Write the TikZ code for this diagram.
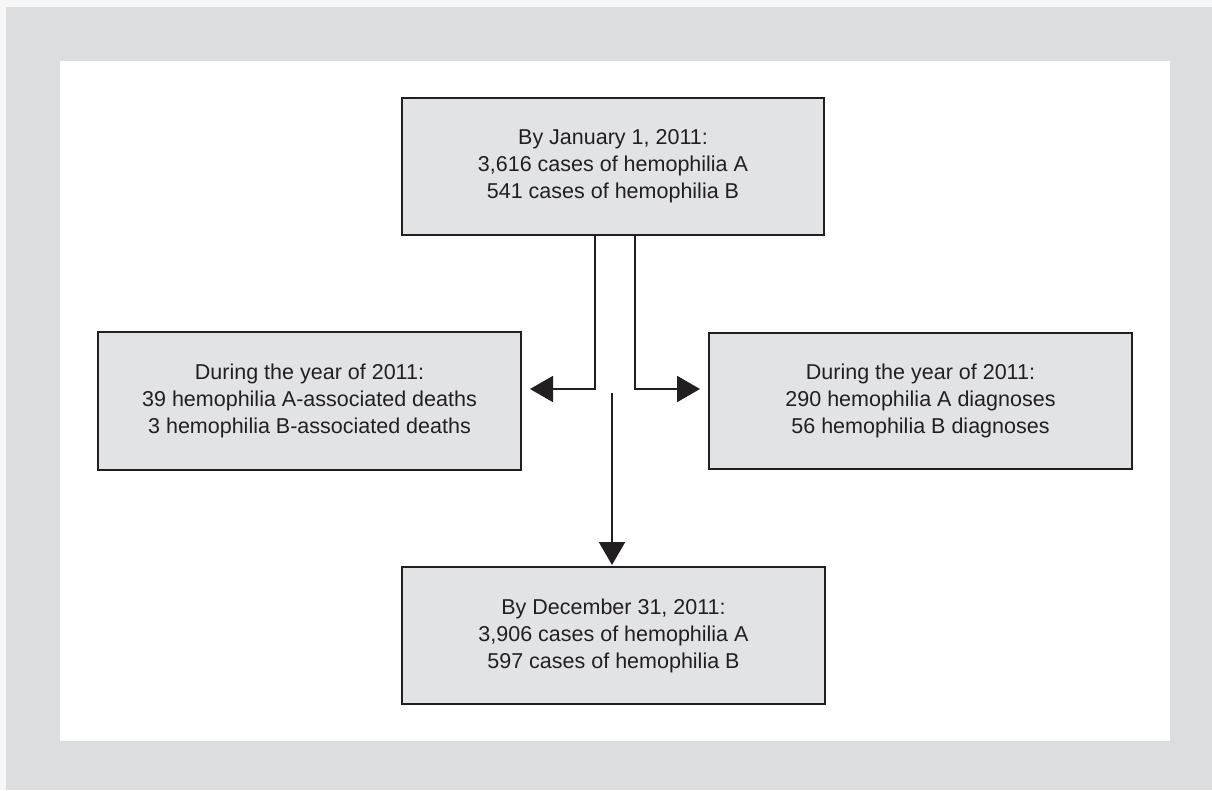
\documentclass[tikz,border=0pt]{standalone}
\usepackage{fontspec}
\setmainfont{Liberation Sans}
\usetikzlibrary{arrows.meta}
\definecolor{outergray}{HTML}{DCDDDF}
\definecolor{boxfill}{HTML}{E2E3E5}
\definecolor{ink}{HTML}{231F20}
\begin{document}
\begin{tikzpicture}[x=1pt,y=-1pt,
  infobox/.style={draw=ink, line width=2pt, fill=boxfill, text=ink, align=center,
    inner sep=0pt, font=\fontsize{21.5}{27}\selectfont},
  conn/.style={draw=ink, line width=2pt, -{Triangle[length=23pt,width=26pt]}},
  plainline/.style={draw=ink, line width=2pt}]
\useasboundingbox (0,0) rectangle (1212,790);
\fill[white!97!black] (0,0) rectangle (1212,790);
\fill[outergray] (6,7) rectangle (1212,790);
\fill[white] (60,61) rectangle (1170,741);

\node[infobox, minimum width=422pt, minimum height=137pt] (top) at (613,166.5)
  {By January 1, 2011:\\3,616 cases of hemophilia A\\541 cases of hemophilia B};
\node[infobox, minimum width=423pt, minimum height=138pt] (left) at (309.5,401)
  {During the year of 2011:\\39 hemophilia A-associated deaths\\3 hemophilia B-associated deaths};
\node[infobox, minimum width=423pt, minimum height=136pt] (right) at (920.5,401)
  {During the year of 2011:\\290 hemophilia A diagnoses\\56 hemophilia B diagnoses};
\node[infobox, minimum width=423pt, minimum height=137pt] (bottom) at (613.5,635.5)
  {By December 31, 2011:\\3,906 cases of hemophilia A\\597 cases of hemophilia B};

\coordinate (lj) at (595,389);
\coordinate (rj) at (635,389);
\coordinate (ms) at (612,393);

\draw[conn, shorten >=8pt] (top.south -| lj) -- (lj) -- (lj -| left.east);
\draw[conn, shorten >=8pt] (top.south -| rj) -- (rj) -- (rj -| right.west);
\draw[conn, shorten >=1pt] (ms) -- (ms |- bottom.north);
\end{tikzpicture}
\end{document}
